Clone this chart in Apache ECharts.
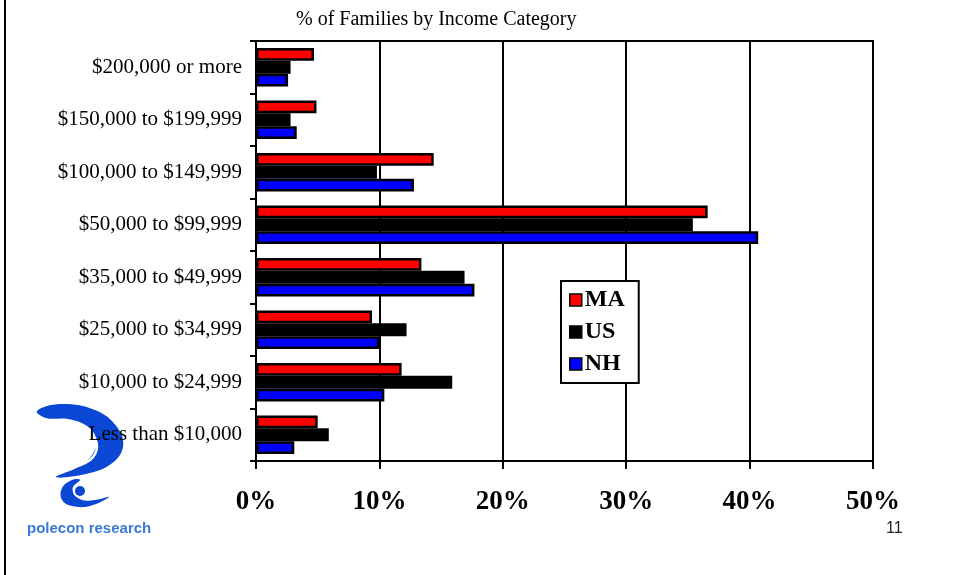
<!DOCTYPE html>
<html>
<head>
<meta charset="utf-8">
<title>% of Families by Income Category</title>
<script src="https://cdn.jsdelivr.net/npm/echarts@6/dist/echarts.min.js"></script>
<style>
	html, body { margin: 0; padding: 0; background: #fff; }
	#chart { width: 957px; height: 575px; }
</style>
</head>
<body>
<div id="chart"></div>
<script>
'use strict';

// income brackets, bottom to top
var categories = ['Less than $10,000', '$10,000 to $24,999', '$25,000 to $34,999', '$35,000 to $49,999',
	'$50,000 to $99,999', '$100,000 to $149,999', '$150,000 to $199,999', '$200,000 or more'];
var seriesNames = ['MA', 'US', 'NH'];
var maValues = [5.0, 11.8, 9.4, 13.4, 36.6, 14.4, 4.9, 4.7];
var usValues = [5.9, 15.9, 12.2, 16.9, 35.4, 9.8, 2.8, 2.8];
var nhValues = [3.1, 10.4, 10.0, 17.7, 40.7, 12.8, 3.3, 2.6];
var xTicks = [0, 10, 20, 30, 40, 50];

var serif = '"Liberation Serif", "Times New Roman", serif';
var colors = { MA: '#ff0000', US: '#000000', NH: '#0000ff' };
var logoBlue = '#0a47d4';

function buildChart() {
	var myChart = echarts.init(document.getElementById('chart'), null, { renderer: 'canvas' });
	var valueList = [maValues, usValues, nhValues];

	var series = [];
	for (var i = 0; i < seriesNames.length; i++) {
		series.push({
			name: seriesNames[i],
			type: 'bar',
			data: valueList[i],
			barGap: '0%',
			barCategoryGap: '27%',
			itemStyle: { color: colors[seriesNames[i]], borderColor: '#000', borderWidth: 2.5 },
			animation: false
		});
	}

	var option = {
		backgroundColor: '#fff',
		title: {
			text: '% of Families by Income Category',
			left: 291,
			top: 5,
			textStyle: { fontFamily: serif, fontSize: 20, fontWeight: 'normal', color: '#000' }
		},
		legend: {
			data: seriesNames,
			orient: 'vertical',
			left: 561,
			top: 281,
			backgroundColor: '#fff',
			borderColor: '#000',
			borderWidth: 2,
			borderRadius: 0,
			padding: [7, 14, 7, 8],
			itemGap: 8,
			itemWidth: 12,
			itemHeight: 12,
			icon: 'rect',
			itemStyle: { borderColor: '#000', borderWidth: 1.5 },
			textStyle: { fontFamily: serif, fontSize: 24, fontWeight: 'bold', color: '#000', padding: [0, 0, 0, -2] }
		},
		grid: {
			left: 256,
			right: 84,
			top: 41,
			bottom: 114,
			show: true,
			borderColor: '#000',
			borderWidth: 2,
			containLabel: false
		},
		xAxis: {
			type: 'value',
			min: xTicks[0],
			max: xTicks[xTicks.length - 1],
			interval: xTicks[1] - xTicks[0],
			axisLine: { show: true, lineStyle: { color: '#000', width: 2 } },
			axisTick: { show: true, length: 8, lineStyle: { color: '#000', width: 2 } },
			splitLine: { show: true, lineStyle: { color: '#000', width: 2 } },
			axisLabel: {
				margin: 28,
				formatter: '{value}%',
				fontFamily: serif,
				fontSize: 27,
				fontWeight: 'bold',
				color: '#000'
			}
		},
		yAxis: {
			type: 'category',
			data: categories,
			axisLine: { show: true, lineStyle: { color: '#000', width: 2 } },
			axisTick: { show: true, length: 6, lineStyle: { color: '#000', width: 2 } },
			splitLine: { show: false },
			axisLabel: { margin: 14, fontFamily: serif, fontSize: 21, color: '#000' }
		},
		graphic: [
			// frame line on the left of the slide
			{ type: 'line', shape: { x1: 5, y1: 0, x2: 5, y2: 575 }, style: { stroke: '#000', lineWidth: 2 }, z: 1 },
			// logo, drawn roughly
			{ type: 'polygon', z: 0, style: { fill: logoBlue },
				shape: { smooth: 0.4, points: [[37, 411], [60, 404], [95, 410], [117, 427], [123, 447], [111, 464], [86, 474], [56, 477],
					[80, 466], [94, 452], [96, 438], [87, 426], [68, 419], [46, 418]] } },
			{ type: 'polyline', z: 0, style: { stroke: '#fff', lineWidth: 2.5, fill: null },
				shape: { smooth: 0.4, points: [[47, 422], [72, 422], [90, 432], [97, 446], [90, 460], [67, 469]] } },
			{ type: 'polygon', z: 0, style: { fill: logoBlue },
				shape: { smooth: 0.4, points: [[72, 480], [62, 488], [62, 500], [72, 506], [90, 506], [109, 497], [95, 500], [82, 500],
					[74, 494], [73, 487], [80, 480]] } },
			{ type: 'circle', z: 0, shape: { cx: 80, cy: 491, r: 7 }, style: { fill: '#fff' } },
			{ type: 'circle', z: 0, shape: { cx: 80, cy: 491, r: 5 }, style: { fill: logoBlue } },
			{ type: 'text', z: 0, left: 27, top: 521,
				style: { text: 'polecon research', fill: '#3b78d8', font: 'bold 15px "Liberation Sans Narrow", "Liberation Sans", sans-serif' } },
			// slide number
			{ type: 'text', left: 886, top: 521,
				style: { text: '11', fill: '#222', font: '16px "Liberation Sans", Arial, sans-serif' } }
		],
		series: series
	};
	myChart.setOption(option);
}

buildChart();
</script>
</body>
</html>
